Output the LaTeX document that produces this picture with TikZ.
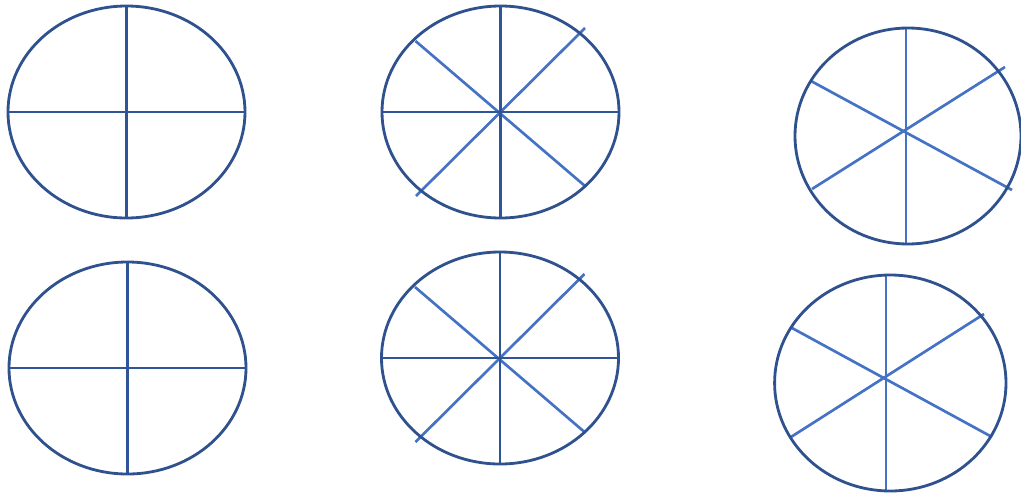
\documentclass[tikz,border=0pt]{standalone}
\usepackage{xcolor}
\definecolor{Rim}{HTML}{2F528F}
\definecolor{Cross}{HTML}{2F5597}
\definecolor{Ray}{HTML}{4472C4}
\usepackage{tikz}
\usetikzlibrary{calc}
\tikzset{
  rim/.style={draw=Rim,line width=2pt},
  cross/.style={draw=Cross,line width=1.9pt},
  ray/.style={draw=Ray,line width=1.9pt}
}

\begin{document}
\begin{tikzpicture}[x=0.025cm,y=-0.025cm]
\useasboundingbox (0,0) rectangle (1021,495);
% centres of the six wheels
\coordinate (qa) at (126.5,112);
\coordinate (qb) at (127.5,368);
\coordinate (ea) at (500.5,112);
\coordinate (eb) at (500,358);
\coordinate (sa) at (906,131);
\coordinate (sb) at (886,378);

% four parts
\foreach \c in {qa,qb}{
  \draw[cross] ($(\c)+(-118.5,0)$) -- ($(\c)+(118.5,0)$);
  \draw[cross] ($(\c)+(0,-106)$) -- ($(\c)+(0,106)$);
  \draw[rim] (\c) ellipse [x radius=118.5, y radius=106];
}

% eight parts
\foreach \c in {ea,eb}{
  \draw[ray] ($(\c)+(-84.5,84)$) -- ($(\c)+(84.5,-84)$);
  \draw[ray] ($(\c)+(-85,-71)$) -- ($(\c)+(84.5,74)$);
  \draw[cross] ($(\c)+(-118.5,0)$) -- ($(\c)+(118.5,0)$);
  \draw[cross] ($(\c)+(0,-106)$) -- ($(\c)+(0,106)$);
  \draw[rim] (\c) ellipse [x radius=118.5, y radius=106];
}

% six parts
\draw[ray] ($(sa)+(0,-103)$) -- ($(sa)+(0,113)$);
\draw[ray] ($(sa)+(-95,-50)$) -- ($(sa)+(106,59)$);
\draw[ray] ($(sa)+(-94,58)$) -- ($(sa)+(99,-64)$);
\draw[rim] ($(sa)+(2,5)$) ellipse [x radius=113, y radius=108];

\draw[ray] ($(sb)+(0,-103)$) -- ($(sb)+(0,113)$);
\draw[ray] ($(sb)+(-94,-50)$) -- ($(sb)+(106,59)$);
\draw[ray] ($(sb)+(-95,59)$) -- ($(sb)+(98,-64)$);
\draw[rim] ($(sb)+(4.3,5)$) ellipse [x radius=115.7, y radius=108];
\end{tikzpicture}
\end{document}
